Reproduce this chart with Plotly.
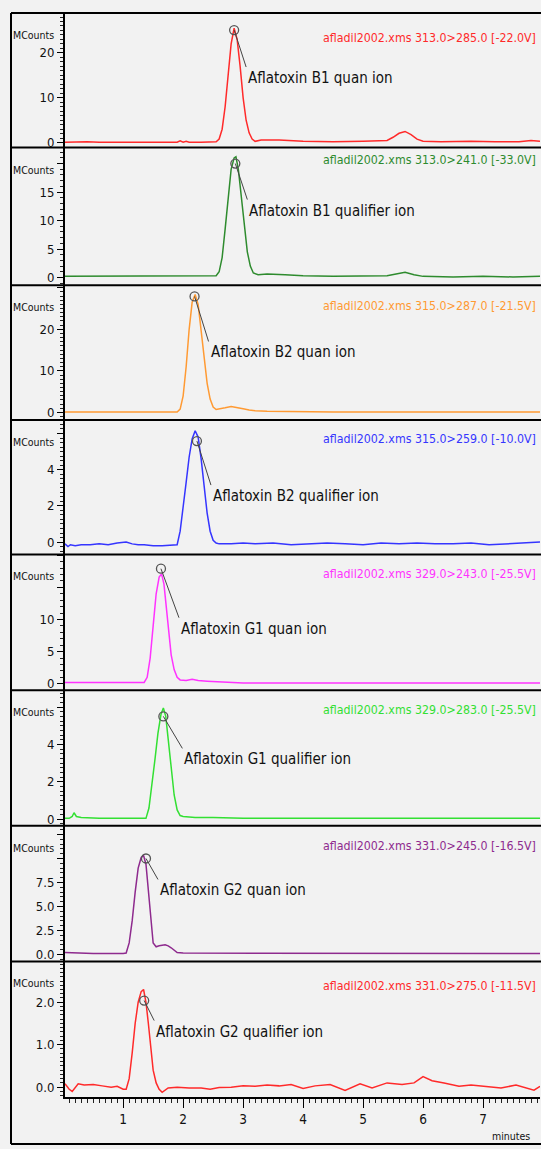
import plotly.graph_objects as go
from plotly.subplots import make_subplots

# ---------------- data ----------------
labels = ["Aflatoxin B1 quan ion", "Aflatoxin B1 qualifier ion",
          "Aflatoxin B2 quan ion", "Aflatoxin B2 qualifier ion",
          "Aflatoxin G1 quan ion", "Aflatoxin G1 qualifier ion",
          "Aflatoxin G2 quan ion", "Aflatoxin G2 qualifier ion"]
headers = ["afladil2002.xms 313.0>285.0 [-22.0V]",
           "afladil2002.xms 313.0>241.0 [-33.0V]",
           "afladil2002.xms 315.0>287.0 [-21.5V]",
           "afladil2002.xms 315.0>259.0 [-10.0V]",
           "afladil2002.xms 329.0>243.0 [-25.5V]",
           "afladil2002.xms 329.0>283.0 [-25.5V]",
           "afladil2002.xms 331.0>245.0 [-16.5V]",
           "afladil2002.xms 331.0>275.0 [-11.5V]"]

t1 = [0.03, 0.2, 0.3, 0.4, 0.6, 1.0, 1.5, 1.9, 1.95, 2.0, 2.05, 2.1, 2.3, 2.55, 2.6, 2.65, 2.7, 2.75,
      2.8, 2.85, 2.9, 2.95, 3.0, 3.05, 3.1, 3.15, 3.2, 3.3, 3.6, 4.0, 4.5, 5.0, 5.4, 5.5, 5.6, 5.7,
      5.8, 5.9, 6.0, 6.3, 6.8, 7.2, 7.6, 7.8, 7.95]
v1 = [0.1, 0.2, 0.3, 0.2, 0.1, 0.1, 0.1, 0.1, 0.4, 0.1, 0.3, 0.1, 0.1, 0.2, 0.8, 3.0, 8.0, 15.0,
      22.0, 25.5, 23.0, 17.0, 10.0, 5.0, 2.2, 0.8, 0.3, 0.6, 0.6, 0.3, 0.2, 0.3, 0.5, 1.2, 2.1, 2.5,
      1.8, 0.8, 0.3, 0.2, 0.3, 0.2, 0.2, 0.5, 0.3]

t2 = [0.03, 0.5, 1.0, 1.5, 2.0, 2.5, 2.55, 2.6, 2.65, 2.7, 2.75, 2.8, 2.85, 2.88, 2.92, 2.97, 3.02,
      3.07, 3.12, 3.17, 3.25, 3.4, 3.7, 4.0, 4.5, 5.0, 5.4, 5.55, 5.7, 5.85, 6.0, 6.5, 7.0, 7.5, 7.95]
v2 = [0.2, 0.2, 0.2, 0.2, 0.2, 0.2, 0.3, 1.0, 3.5, 8.5, 14.0, 19.0, 21.0, 21.2, 19.0, 14.0, 8.5,
      4.5, 2.0, 0.8, 0.5, 0.6, 0.5, 0.3, 0.2, 0.2, 0.3, 0.6, 0.9, 0.5, 0.2, 0.1, 0.2, 0.1, 0.2]

t3 = [0.03, 0.5, 1.0, 1.5, 1.9, 1.95, 2.0, 2.05, 2.1, 2.15, 2.2, 2.25, 2.3, 2.35, 2.4, 2.45, 2.5,
      2.55, 2.6, 2.7, 2.8, 2.9, 3.0, 3.1, 3.2, 3.4, 3.8, 4.5, 5.0, 5.5, 6.0, 6.5, 7.0, 7.5, 7.95]
v3 = [0.1, 0.1, 0.1, 0.1, 0.1, 0.8, 4.0, 11.0, 20.0, 26.5, 28.4, 26.0, 20.0, 13.0, 7.0, 3.2, 1.3,
      0.7, 0.8, 1.1, 1.4, 1.2, 0.9, 0.6, 0.4, 0.3, 0.2, 0.1, 0.1, 0.1, 0.1, 0.1, 0.1, 0.1, 0.1]

t4 = [0.03, 0.08, 0.12, 0.2, 0.3, 0.45, 0.6, 0.75, 0.9, 1.05, 1.15, 1.25, 1.35, 1.5, 1.65, 1.8,
      1.9, 1.95, 2.0, 2.05, 2.1, 2.15, 2.2, 2.25, 2.3, 2.35, 2.4, 2.45, 2.5, 2.55, 2.6, 2.8, 3.0,
      3.2, 3.5, 3.8, 4.1, 4.4, 4.7, 5.0, 5.3, 5.6, 5.9, 6.2, 6.5, 6.8, 7.1, 7.4, 7.7, 7.95]
v4 = [-0.1, -0.25, -0.15, -0.2, -0.15, -0.15, -0.1, -0.15, -0.05, 0.0, -0.1, -0.15, -0.15, -0.2,
      -0.2, -0.15, -0.15, 0.6, 1.8, 3.3, 4.7, 5.7, 6.15, 5.8, 4.6, 3.0, 1.6, 0.6, 0.1, -0.05, -0.1,
      -0.1, -0.05, -0.1, -0.05, -0.15, -0.1, -0.05, -0.1, -0.15, -0.05, -0.1, -0.05, -0.1, -0.1,
      -0.05, -0.15, -0.1, -0.05, 0.0]

t5 = [0.03, 0.5, 1.0, 1.35, 1.4, 1.45, 1.5, 1.55, 1.6, 1.64, 1.68, 1.72, 1.76, 1.8, 1.85, 1.9,
      1.95, 2.05, 2.15, 2.25, 2.4, 2.6, 2.8, 3.0, 3.5, 4.0, 5.0, 6.0, 7.0, 7.95]
v5 = [0.2, 0.2, 0.2, 0.2, 1.0, 4.0, 9.0, 14.0, 16.6, 17.1, 15.5, 12.0, 8.0, 4.5, 2.2, 1.0, 0.6,
      0.5, 0.7, 0.5, 0.4, 0.3, 0.2, 0.1, 0.1, 0.1, 0.1, 0.1, 0.1, 0.1]

t6 = [0.03, 0.1, 0.15, 0.18, 0.22, 0.3, 0.6, 1.0, 1.38, 1.43, 1.48, 1.53, 1.58, 1.63, 1.67, 1.71,
      1.75, 1.8, 1.85, 1.9, 1.95, 2.0, 2.2, 2.5, 3.0, 3.5, 4.0, 5.0, 6.0, 7.0, 7.95]
v6 = [0.05, 0.05, 0.15, 0.35, 0.15, 0.1, 0.05, 0.05, 0.05, 0.6, 1.8, 3.2, 4.6, 5.6, 5.95, 5.5,
      4.3, 2.7, 1.3, 0.5, 0.2, 0.15, 0.1, 0.1, 0.05, 0.05, 0.05, 0.05, 0.05, 0.05, 0.05]

t7 = [0.03, 0.5, 1.0, 1.05, 1.1, 1.15, 1.2, 1.25, 1.3, 1.34, 1.38, 1.42, 1.46, 1.5, 1.55, 1.6,
      1.7, 1.75, 1.8, 1.85, 1.9, 2.0, 2.5, 3.0, 4.0, 5.0, 6.0, 7.0, 7.95]
v7 = [0.2, 0.1, 0.1, 0.15, 1.2, 3.5, 6.5, 9.0, 10.1, 10.3, 9.4, 6.5, 3.2, 1.2, 0.8, 0.9, 1.0, 0.9,
      0.7, 0.4, 0.2, 0.15, 0.15, 0.1, 0.1, 0.1, 0.1, 0.1, 0.1]

t8 = [0.03, 0.1, 0.15, 0.2, 0.25, 0.35, 0.5, 0.65, 0.8, 0.9, 1.0, 1.05, 1.1, 1.15, 1.2, 1.25, 1.3,
      1.34, 1.38, 1.42, 1.46, 1.5, 1.55, 1.6, 1.65, 1.75, 1.9, 2.1, 2.3, 2.45, 2.6, 2.8, 3.0, 3.2,
      3.4, 3.6, 3.8, 4.0, 4.2, 4.45, 4.7, 4.95, 5.15, 5.4, 5.65, 5.85, 6.0, 6.15, 6.35, 6.6, 6.8,
      7.0, 7.3, 7.55, 7.85, 7.95]
v8 = [0.08, -0.05, -0.1, 0.0, 0.08, 0.05, 0.06, 0.03, 0.0, 0.02, -0.05, -0.05, 0.2, 0.8, 1.5, 2.0,
      2.25, 2.3, 2.0, 1.5, 0.9, 0.4, 0.1, -0.05, -0.12, -0.02, 0.0, -0.02, -0.02, -0.05, -0.01,
      0.0, 0.03, 0.02, 0.05, 0.03, 0.06, -0.03, 0.03, 0.06, -0.08, 0.08, -0.02, 0.1, 0.06, 0.1,
      0.25, 0.15, 0.1, 0.02, 0.05, 0.02, -0.02, 0.05, -0.07, 0.02]

# peak marker (circle) positions
peak_t = [2.85, 2.87, 2.19, 2.23, 1.63, 1.67, 1.38, 1.35]
peak_v = [25.1, 20.0, 27.9, 5.58, 17.9, 5.5, 10.0, 2.04]

# y-axis ranges and tick labels
y_ranges = [[-1.1, 28.9], [-1.36, 22.8], [-1.8, 30.6], [-0.69, 6.75],
            [-1.0, 20.1], [-0.35, 6.9], [-0.73, 13.4], [-0.235, 2.96]]
y_tickvals = [[0, 10, 20], [0, 5, 10, 15, 20], [0, 10, 20, 30], [0, 2, 4, 6],
              [0, 5, 10, 15, 20], [0, 2, 4, 6], [0, 2.5, 5, 7.5, 10, 12.5], [0, 1, 2]]
y_ticktext = [["0", "10", "20"], ["0", "5", "10", "15", ""], ["0", "10", "20", ""],
              ["0", "2", "4", ""], ["0", "5", "10", "", ""], ["0", "2", "4", ""],
              ["0.0", "2.5", "5.0", "7.5", "", ""], ["0.0", "1.0", "2.0"]]
y_minor = [1, 1, 1, 0.25, 1, 0.25, 0.5, 0.1]
x_range = [0.03, 7.95]
x_tickvals = [1, 2, 3, 4, 5, 6, 7]
x_ticktext = ["1", "2", "3", "4", "5", "6", "7"]

times = [t1, t2, t3, t4, t5, t6, t7, t8]
values = [v1, v2, v3, v4, v5, v6, v7, v8]

# ---------------- style ----------------
colors = ["#ff2a2a", "#2e8b2e", "#ff9a33", "#3535ff", "#ff33ff", "#33e033", "#8e2a8e", "#ff2a2a"]
W, H = 541, 1149
FONT = "DejaVu Sans Condensed, sans-serif"
panel_px = [(13, 148), (148, 286), (286, 421), (421, 556), (556, 692), (692, 828), (828, 964), (964, 1100)]
header_px = [38, 160, 307, 440, 576, 712, 848, 989]
label_off = [(12, 37), (12, 36), (14, 45), (14, 44), (18, 49), (19, 32), (12, 21), (10, 20)]

fig = make_subplots(rows=8, cols=1, shared_xaxes=True, vertical_spacing=0)

annotations = []
for i in range(8):
    r = i + 1
    fig.add_trace(go.Scatter(x=times[i], y=values[i], mode="lines",
                             line=dict(color=colors[i], width=1.5), hoverinfo="skip"), row=r, col=1)
    fig.add_trace(go.Scatter(x=[peak_t[i]], y=[peak_v[i]], mode="markers",
                             marker=dict(symbol="circle-open", size=9, color="#555555",
                                         line=dict(width=1.3)), hoverinfo="skip"), row=r, col=1)
    top, bot = panel_px[i]
    yname = "yaxis" if r == 1 else f"yaxis{r}"
    xname = "xaxis" if r == 1 else f"xaxis{r}"
    fig.layout[yname].update(
        domain=[1 - bot / H, 1 - top / H], range=y_ranges[i],
        tickvals=y_tickvals[i], ticktext=y_ticktext[i],
        showgrid=False, zeroline=False, showline=True, linecolor="black", linewidth=2,
        ticks="outside", ticklen=6, tickwidth=1.3, tickcolor="black",
        tickfont=dict(size=13, color="#111111", family=FONT),
        minor=dict(ticks="outside", ticklen=3, tickwidth=1.2, tickcolor="#222222", dtick=y_minor[i], tick0=0),
    )
    fig.layout[xname].update(domain=[65 / W, 540 / W], range=x_range, showgrid=False, zeroline=False)
    xr = "x" if r == 1 else f"x{r}"
    yr = "y" if r == 1 else f"y{r}"
    annotations.append(dict(x=peak_t[i], y=peak_v[i], xref=xr, yref=yr, text=labels[i],
                            showarrow=True, arrowhead=0, arrowwidth=1, arrowcolor="#444444",
                            ax=label_off[i][0], ay=label_off[i][1], xanchor="left", yanchor="top",
                            font=dict(size=15, color="#111111", family=FONT)))
    annotations.append(dict(x=538 / W, y=1 - header_px[i] / H, xref="paper", yref="paper",
                            text=headers[i], showarrow=False, xanchor="right", yanchor="middle",
                            font=dict(size=12.3, color=colors[i], family=FONT)))
    annotations.append(dict(x=56 / W, y=1 - (top + 22) / H, xref="paper", yref="paper",
                            text="MCounts", showarrow=False, xanchor="right", yanchor="middle",
                            font=dict(size=10.5, color="#111111", family=FONT)))

annotations.append(dict(x=511 / W, y=1 - 1139 / H, xref="paper", yref="paper", text="minutes",
                        showarrow=False, xanchor="center", yanchor="middle",
                        font=dict(size=10.5, color="#111111", family=FONT)))

fig.layout["xaxis8"].update(showline=True, linecolor="black", linewidth=2, ticks="outside",
                            ticklen=9, tickwidth=1.3, tickcolor="black",
                            tickvals=x_tickvals, ticktext=x_ticktext, showticklabels=True,
                            tickfont=dict(size=13.5, color="#111111", family=FONT),
                            minor=dict(ticks="outside", ticklen=4, tickwidth=1.2, tickcolor="#222222", dtick=0.1, tick0=0))

shapes = []
for yp in [13, 148, 286, 421, 556, 692, 828, 964, 1147]:
    shapes.append(dict(type="line", xref="paper", yref="paper", x0=11 / W, x1=1.0,
                       y0=1 - yp / H, y1=1 - yp / H, line=dict(color="black", width=2)))
shapes.append(dict(type="line", xref="paper", yref="paper", x0=11 / W, x1=11 / W,
                   y0=1 - 13 / H, y1=1 - 1147 / H, line=dict(color="black", width=2)))

fig.update_layout(width=W, height=H, margin=dict(l=0, r=0, t=0, b=0),
                  paper_bgcolor="#f2f2f2", plot_bgcolor="#f2f2f2", showlegend=False,
                  font=dict(family=FONT, color="#111111"),
                  annotations=annotations, shapes=shapes)

fig.write_html("out.html")
